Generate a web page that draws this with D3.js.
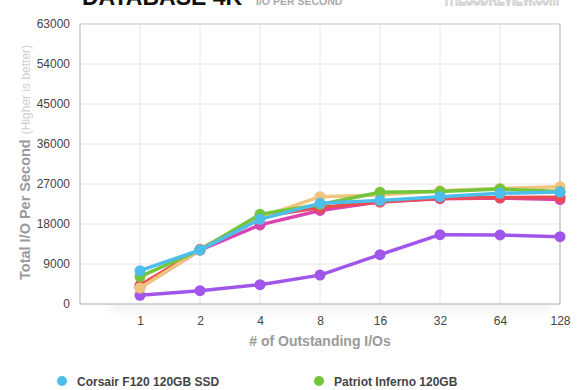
<!DOCTYPE html>
<html><head><meta charset="utf-8">
<script src="https://cdn.jsdelivr.net/npm/d3@7"></script>
<style>
html,body{margin:0;padding:0;background:#fff;}
svg{display:block;font-family:"Liberation Sans",Arial,Helvetica,sans-serif;}
</style></head>
<body>
<svg id="c" width="580" height="390"></svg>
<script>
const categories = ["1","2","4","8","16","32","64","128"];
const yTicks = [0,9000,18000,27000,36000,45000,54000,63000];
const seriesNames = ["Corsair F120 120GB SSD","Patriot Inferno 120GB","OCZ Vertex 2 120GB","OWC Mercury Extreme Pro 120GB","Mushkin Callisto Deluxe 120GB","G.Skill Phoenix Pro 120GB"];
const corsair = [7500,12150,19050,22650,23300,24150,24900,25200];
const patriot = [6150,12150,20175,22400,25150,25300,25850,25300];
const ocz = [3600,12150,19500,24150,24500,25500,26000,26400];
const owc = [4200,12300,19650,21700,22950,23800,23950,24000];
const mushkin = [3700,12100,17800,21050,23000,23700,23850,23500];
const gskill = [1950,3000,4350,6500,11100,15600,15550,15150];
const seriesValues = [corsair,patriot,ocz,owc,mushkin,gskill];
const colors = ["#4dbdec","#73c53c","#f0c47e","#ec4c50","#d844b0","#a056ea"];
const drawOrder = [5,4,3,2,1,0];

const svg = d3.select("#c");
const L=80,R=560,T=24,B=304;
const x = d3.scaleLinear().domain([0,categories.length]).range([L,R]);
const y = d3.scaleLinear().domain([0,63000]).range([B,T]);

// shadow under plot
const defs = svg.append("defs");
const f = defs.append("filter").attr("id","blur").attr("x","-20%").attr("y","-200%").attr("width","140%").attr("height","500%");
f.append("feGaussianBlur").attr("stdDeviation",6);
svg.append("rect").attr("x",L+30).attr("y",B-4).attr("width",R-L-40).attr("height",10)
  .attr("fill","#000").attr("opacity",0.07).attr("filter","url(#blur)");
svg.append("rect").attr("x",L).attr("y",T).attr("width",R-L).attr("height",B-T).attr("fill","#fff");

// title
svg.append("text").attr("x",82).attr("y",5).attr("font-size",23).attr("font-weight","bold").attr("fill","#111").text("DATABASE 4K");
svg.append("text").attr("x",256).attr("y",5).attr("font-size",10.5).attr("font-weight","bold").attr("fill","#aaa").text("I/O PER SECOND");
svg.append("text").attr("x",443).attr("y",5).attr("font-size",20).attr("font-weight","bold").attr("fill","#e6e6e6").attr("stroke","#bdbdbd").attr("stroke-width",0.8)
  .attr("textLength",116).attr("lengthAdjust","spacingAndGlyphs").text("THESSDREVIEW.com");

// grid
const g = svg.append("g");
g.selectAll(".hg").data(yTicks).join("line").attr("x1",L).attr("x2",R).attr("y1",d=>y(d)).attr("y2",d=>y(d))
  .attr("stroke","#e6e6e6").attr("stroke-width",1);
g.selectAll(".vg").data(categories).join("line").attr("x1",(d,i)=>x(i+1)).attr("x2",(d,i)=>x(i+1)).attr("y1",T).attr("y2",B)
  .attr("stroke","#e6e6e6").attr("stroke-width",1);
g.append("line").attr("x1",L).attr("x2",L).attr("y1",T).attr("y2",B).attr("stroke","#b5b5b5");
g.append("line").attr("x1",R).attr("x2",R).attr("y1",T).attr("y2",B).attr("stroke","#b5b5b5");
g.append("line").attr("x1",L).attr("x2",R).attr("y1",B).attr("y2",B).attr("stroke","#b5b5b5");
g.append("line").attr("x1",L).attr("x2",R).attr("y1",T).attr("y2",T).attr("stroke","#cfcfcf");

// axes
const yAxis = d3.axisLeft(y).tickValues(yTicks).tickSize(0).tickPadding(10).tickFormat(d3.format("d"));
const ya = svg.append("g").attr("transform",`translate(${L},0)`).call(yAxis);
ya.select(".domain").remove();
ya.selectAll("text").attr("font-size",12).attr("fill","#444").attr("font-family","Liberation Sans,Arial,sans-serif");
const xAxis = d3.axisBottom(x).tickValues(d3.range(1,categories.length+1)).tickSize(0).tickPadding(12).tickFormat(d=>categories[d-1]);
const xa = svg.append("g").attr("transform",`translate(0,${B})`).call(xAxis);
xa.select(".domain").remove();
xa.selectAll("text").attr("font-size",12).attr("fill","#444").attr("font-family","Liberation Sans,Arial,sans-serif");

svg.append("text").attr("x",320).attr("y",346).attr("text-anchor","middle").attr("font-size",14).attr("font-weight","bold").attr("fill","#9a9a9a").text("# of Outstanding I/Os");
const yt = svg.append("text").attr("transform","translate(30,280) rotate(-90)").attr("font-size",14.5).attr("font-weight","bold").attr("fill","#9a9a9a");
yt.append("tspan").text("Total I/O Per Second");
yt.append("tspan").attr("dx",5).attr("font-size",12).attr("font-weight","normal").attr("fill","#cfcfcf").text("(Higher is better)");

// series
const line = d3.line().x((d,i)=>x(i+1)).y(d=>y(d));
drawOrder.forEach(s=>{
  const sg = svg.append("g");
  sg.append("path").datum(seriesValues[s]).attr("d",line).attr("fill","none").attr("stroke",colors[s]).attr("stroke-width",3.5).attr("stroke-linejoin","round");
  sg.selectAll("circle").data(seriesValues[s]).join("circle").attr("cx",(d,i)=>x(i+1)).attr("cy",d=>y(d)).attr("r",5.5).attr("fill",colors[s]);
});

// legend
const lg = svg.append("g");
seriesNames.forEach((n,i)=>{
  const col = i%2, row = Math.floor(i/2);
  const lx = col===0?62:319, ly = 381 + row*22;
  lg.append("circle").attr("cx",lx).attr("cy",ly).attr("r",5).attr("fill",colors[i]);
  lg.append("text").attr("x",lx+15).attr("y",ly+4.5).attr("font-size",12).attr("font-weight","bold").attr("fill","#444").text(n);
});
</script>
</body></html>
